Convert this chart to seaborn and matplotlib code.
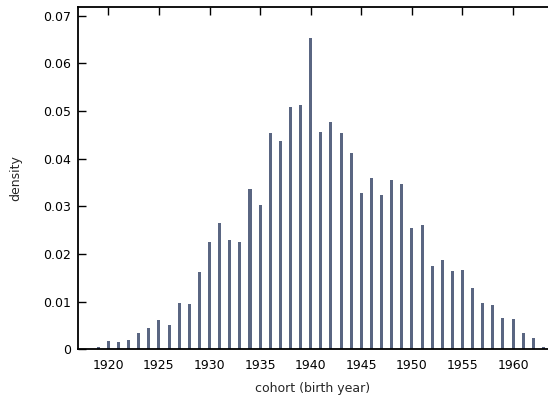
import matplotlib
matplotlib.use("Agg")
import matplotlib.pyplot as plt
import seaborn as sns
import pandas as pd

years = list(range(1918, 1964))
density = [0.0002, 0.0005, 0.0018, 0.0015, 0.0020, 0.0034, 0.0045, 0.0062, 0.0052, 0.0097,
           0.0096, 0.0163, 0.0225, 0.0266, 0.0229, 0.0226, 0.0336, 0.0303, 0.0453, 0.0437,
           0.0508, 0.0513, 0.0653, 0.0456, 0.0476, 0.0454, 0.0411, 0.0328, 0.0359, 0.0324,
           0.0356, 0.0347, 0.0255, 0.0261, 0.0174, 0.0187, 0.0165, 0.0166, 0.0129, 0.0098,
           0.0093, 0.0066, 0.0064, 0.0035, 0.0024, 0.0006]
xticks = [1920, 1925, 1930, 1935, 1940, 1945, 1950, 1955, 1960]
yticks = [0, 0.01, 0.02, 0.03, 0.04, 0.05, 0.06, 0.07]
ytick_labels = ["0", "0.01", "0.02", "0.03", "0.04", "0.05", "0.06", "0.07"]

df = pd.DataFrame({"cohort": years, "density": density})

sns.set_style("white")
plt.rcParams["font.family"] = ["DejaVu Sans"]

fig = plt.figure(figsize=(5.48, 3.95), dpi=100)
ax = fig.add_axes([0.1423, 0.1152, 0.8577, 0.8671])

sns.barplot(data=df, x="cohort", y="density", native_scale=True, width=0.3,
            color="#5a6682", saturation=1, ax=ax, edgecolor="none")

ax.set_xlim(1917, 1963.45)
ax.set_ylim(0, 0.0718)
ax.set_xticks(xticks)
ax.set_xticklabels([str(t) for t in xticks])
ax.set_yticks(yticks)
ax.set_yticklabels(ytick_labels)
ax.tick_params(axis="both", direction="in", length=6, width=1.0, labelsize=9, colors="black")
ax.tick_params(axis="x", top=True, bottom=False, pad=7)
ax.tick_params(axis="y", left=True, pad=5)
for side in ["left", "top", "bottom"]:
    ax.spines[side].set_visible(True)
    ax.spines[side].set_linewidth(1.3)
    ax.spines[side].set_color("black")
ax.spines["right"].set_visible(False)
ax.set_xlabel("cohort (birth year)", fontsize=9, labelpad=7)
ax.set_ylabel("density", fontsize=9, labelpad=15)

fig.savefig("out.png", dpi=100)
